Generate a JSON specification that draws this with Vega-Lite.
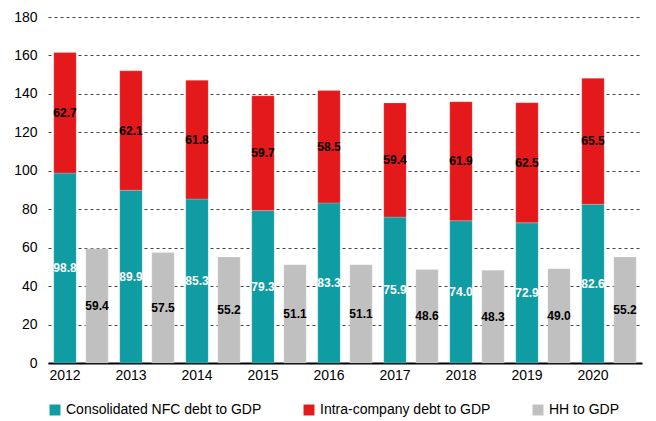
{
  "$schema": "https://vega.github.io/schema/vega-lite/v6.json",
  "width": 594,
  "height": 346,
  "padding": {"left": 13, "top": 10, "right": 14, "bottom": 2},
  "background": "white",
  "config": {
    "view": {"stroke": null},
    "font": "Liberation Sans"
  },
  "data": {
    "values": [
      {"year": "2012", "grp": "A", "series": "Consolidated NFC debt to GDP", "ord": 1, "value": 98.8},
      {"year": "2012", "grp": "A", "series": "Intra-company debt to GDP", "ord": 2, "value": 62.7},
      {"year": "2012", "grp": "B", "series": "HH to GDP", "ord": 3, "value": 59.4},
      {"year": "2013", "grp": "A", "series": "Consolidated NFC debt to GDP", "ord": 1, "value": 89.9},
      {"year": "2013", "grp": "A", "series": "Intra-company debt to GDP", "ord": 2, "value": 62.1},
      {"year": "2013", "grp": "B", "series": "HH to GDP", "ord": 3, "value": 57.5},
      {"year": "2014", "grp": "A", "series": "Consolidated NFC debt to GDP", "ord": 1, "value": 85.3},
      {"year": "2014", "grp": "A", "series": "Intra-company debt to GDP", "ord": 2, "value": 61.8},
      {"year": "2014", "grp": "B", "series": "HH to GDP", "ord": 3, "value": 55.2},
      {"year": "2015", "grp": "A", "series": "Consolidated NFC debt to GDP", "ord": 1, "value": 79.3},
      {"year": "2015", "grp": "A", "series": "Intra-company debt to GDP", "ord": 2, "value": 59.7},
      {"year": "2015", "grp": "B", "series": "HH to GDP", "ord": 3, "value": 51.1},
      {"year": "2016", "grp": "A", "series": "Consolidated NFC debt to GDP", "ord": 1, "value": 83.3},
      {"year": "2016", "grp": "A", "series": "Intra-company debt to GDP", "ord": 2, "value": 58.5},
      {"year": "2016", "grp": "B", "series": "HH to GDP", "ord": 3, "value": 51.1},
      {"year": "2017", "grp": "A", "series": "Consolidated NFC debt to GDP", "ord": 1, "value": 75.9},
      {"year": "2017", "grp": "A", "series": "Intra-company debt to GDP", "ord": 2, "value": 59.4},
      {"year": "2017", "grp": "B", "series": "HH to GDP", "ord": 3, "value": 48.6},
      {"year": "2018", "grp": "A", "series": "Consolidated NFC debt to GDP", "ord": 1, "value": 74.0},
      {"year": "2018", "grp": "A", "series": "Intra-company debt to GDP", "ord": 2, "value": 61.9},
      {"year": "2018", "grp": "B", "series": "HH to GDP", "ord": 3, "value": 48.3},
      {"year": "2019", "grp": "A", "series": "Consolidated NFC debt to GDP", "ord": 1, "value": 72.9},
      {"year": "2019", "grp": "A", "series": "Intra-company debt to GDP", "ord": 2, "value": 62.5},
      {"year": "2019", "grp": "B", "series": "HH to GDP", "ord": 3, "value": 49.0},
      {"year": "2020", "grp": "A", "series": "Consolidated NFC debt to GDP", "ord": 1, "value": 82.6},
      {"year": "2020", "grp": "A", "series": "Intra-company debt to GDP", "ord": 2, "value": 65.5},
      {"year": "2020", "grp": "B", "series": "HH to GDP", "ord": 3, "value": 55.2}
    ]
  },
  "transform": [
    {"stack": "value", "groupby": ["year", "grp"], "sort": [{"field": "ord"}], "as": ["v0", "v1"]},
    {"calculate": "(datum.v0 + datum.v1) / 2", "as": "vmid"},
    {"calculate": "format(datum.value, '.1f')", "as": "lbl"}
  ],
  "encoding": {
    "x": {
      "field": "year",
      "type": "nominal",
      "scale": {"paddingInner": 0, "paddingOuter": 0},
      "axis": {
        "title": null,
        "labelAngle": 0,
        "labelOffset": -16,
        "labelFontSize": 14,
        "labelColor": "#000",
        "labelPadding": 5,
        "ticks": false,
        "domainColor": "#000",
        "domainWidth": 2,
        "grid": false
      }
    },
    "xOffset": {
      "field": "grp",
      "type": "nominal",
      "scale": {"paddingInner": 0.3, "paddingOuter": 0.18}
    }
  },
  "layer": [
    {
      "mark": {"type": "bar", "stroke": "white", "strokeOpacity": 0.4, "strokeWidth": 0.5},
      "encoding": {
        "y": {
          "field": "v0",
          "type": "quantitative",
          "scale": {"domain": [0, 180]},
          "axis": {
            "title": null,
            "values": [0, 20, 40, 60, 80, 100, 120, 140, 160, 180],
            "labelOverlap": false,
            "domain": false,
            "ticks": false,
            "labelFontSize": 14,
            "labelColor": "#000",
            "labelPadding": 11,
            "gridColor": "#444",
            "gridDash": [3, 3],
            "gridWidth": 1
          }
        },
        "y2": {"field": "v1"},
        "color": {
          "field": "series",
          "type": "nominal",
          "sort": ["Consolidated NFC debt to GDP", "Intra-company debt to GDP", "HH to GDP"],
          "scale": {
            "domain": ["Consolidated NFC debt to GDP", "Intra-company debt to GDP", "HH to GDP"],
            "range": ["#0F9CA3", "#E3191B", "#C0C0C0"]
          },
          "legend": {
            "title": null,
            "orient": "bottom",
            "direction": "horizontal",
            "symbolType": "square",
            "symbolSize": 120,
            "symbolStrokeWidth": 0,
            "labelFontSize": 14,
            "labelColor": "#000",
            "labelLimit": 300,
            "columnPadding": 40,
            "offset": 21,
            "padding": 0
          }
        }
      }
    },
    {
      "mark": {"type": "text", "fontSize": 12, "fontWeight": "bold", "baseline": "middle", "align": "center"},
      "encoding": {
        "y": {
          "field": "vmid",
          "type": "quantitative",
          "axis": {
            "title": null,
            "values": [0, 20, 40, 60, 80, 100, 120, 140, 160, 180],
            "labelOverlap": false,
            "domain": false,
            "ticks": false,
            "labelFontSize": 14,
            "labelColor": "#000",
            "labelPadding": 11,
            "gridColor": "#444",
            "gridDash": [3, 3],
            "gridWidth": 1
          }
        },
        "text": {"field": "lbl"},
        "color": {
          "condition": {"test": "datum.ord === 1", "value": "white"},
          "value": "black"
        }
      }
    }
  ]
}
